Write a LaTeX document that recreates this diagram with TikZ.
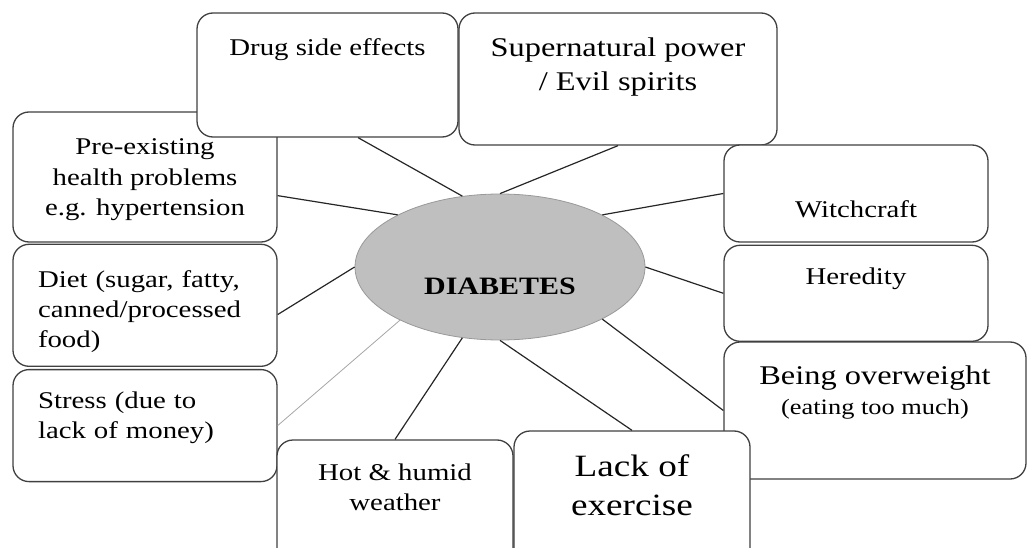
\documentclass[tikz,border=0pt]{standalone}
\usepackage{fontspec}
\setmainfont{Liberation Serif}[FakeStretch=1.2]
\usetikzlibrary{positioning, shapes.geometric}

\begin{document}
\begin{tikzpicture}[
    x=1pt, y=-1pt,
    cause/.style={rectangle, draw=black!75, line width=1.3pt, rounded corners=16pt, fill=white, align=center, inner sep=0pt, font=\fontsize{24}{30}\selectfont},
    disease/.style={ellipse, draw=black!40, line width=0.8pt, fill=black!25, inner sep=0pt, minimum width=290pt, minimum height=146pt, font=\fontsize{25}{30}\selectfont\bfseries},
    big_text/.style={font=\fontsize{27}{34}\selectfont},
    huge_text/.style={font=\fontsize{31}{39}\selectfont},
    link/.style={black!85, line width=1.2pt},
    faint_link/.style={black!35, line width=0.8pt}
]
    % page frame
    \useasboundingbox (0,0) rectangle (1028,548);
    \clip (0,0) rectangle (1028,548);

    % Centre
    \node[disease, text height=55pt, text depth=0pt] (diabetes) at (500,267) {DIABETES};

    % Left column
    \node[cause, minimum width=264pt, minimum height=130pt, text height=76pt, text depth=0pt] (health) at (145,177) {Pre-existing\\health problems\\e.g. hypertension};
    \node[cause, minimum width=264pt, minimum height=122pt, text width=214pt, align=left, text height=10pt, text depth=45pt, below=1pt of health] (diet) {Diet (sugar, fatty,\\canned/processed\\food)};
    \node[cause, minimum width=264pt, minimum height=112pt, text width=214pt, align=left, text height=10pt, text depth=44pt, below=2pt of diet] (stress) {Stress (due to\\lack of money)};

    % Top row
    \node[cause, minimum width=261pt, minimum height=124pt, text height=10pt, text depth=48pt] (drugs) at (327.5,75) {Drug side effects};
    \node[cause, big_text, minimum width=318pt, minimum height=132pt, text height=24pt, text depth=0pt] (spirits) at (618,79) {Supernatural power\\/ Evil spirits};

    % Right column
    \node[cause, minimum width=264pt, minimum height=97pt, text height=49pt, text depth=0pt] (witchcraft) at (856,193.5) {Witchcraft};
    \node[cause, minimum width=264pt, minimum height=96pt, text height=10pt, text depth=28pt, below=2pt of witchcraft] (heredity) {Heredity};
    \node[cause, big_text, minimum width=302pt, minimum height=137pt, text height=17pt, text depth=10pt] (weight) at (875,410.5) {Being overweight\\[-4pt]{\fontsize{22}{26}\selectfont(eating too much)}};

    % Bottom row
    \node[cause, minimum width=236pt, minimum height=130pt, text height=20pt, text depth=10pt] (weather) at (395,505) {Hot \& humid\\weather};
    \node[cause, huge_text, minimum width=236pt, minimum height=139pt, text height=29pt, text depth=0pt] (exercise) at (632,500.5) {Lack of\\exercise};

    % Spokes
    \draw[link] (drugs.296) -- (diabetes.118);
    \draw[link] (spirits.south) -- (diabetes.90);
    \draw[link] (health.352) -- (diabetes.153);
    \draw[link] (diet.356) -- (diabetes.180);
    \draw[faint_link] (stress.east) -- (diabetes.208);
    \draw[link] (weather.north) -- (diabetes.242);
    \draw[link] (exercise.north) -- (diabetes.270);
    \draw[link] (weight.west) -- (diabetes.333);
    \draw[link] (heredity.west) -- (diabetes.0);
    \draw[link] (witchcraft.west) -- (diabetes.27);
\end{tikzpicture}
\end{document}
